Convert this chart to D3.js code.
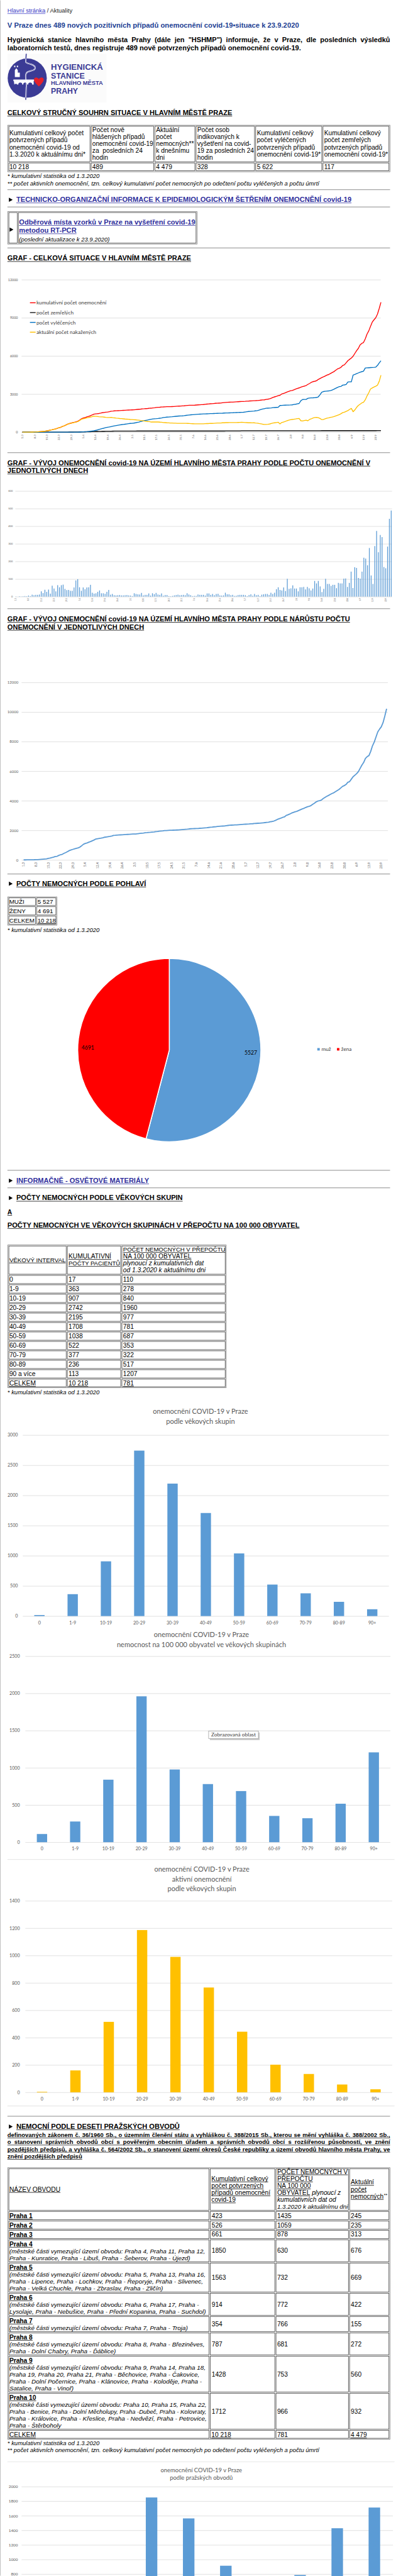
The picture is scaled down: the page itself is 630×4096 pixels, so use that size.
<!DOCTYPE html>
<html lang="cs">
<head>
<meta charset="utf-8">
<title>Covid-19 Praha</title>
<script src="https://cdn.jsdelivr.net/npm/d3@7"></script>
<style>
  html, body { margin: 0; padding: 0; background: #fff; }
  svg { display: block; }
  text { white-space: pre; }
</style>
</head>
<body>
<svg id="page" width="630" height="4096" viewBox="0 0 800 5200"></svg>
<script>
// ======================= DATA =======================
const pageTitle = "V Praze dnes 489 nových pozitivních případů onemocnění covid-19•situace k 23.9.2020";
const introLines = [
  "Hygienická stanice hlavního města Prahy (dále jen \"HSHMP\") informuje, že v Praze, dle posledních výsledků",
  "laboratorních testů, dnes registruje 489 nově potvrzených případů onemocnění covid-19."
];
const summaryHeaders = [
  ["Kumulativní celkový počet","potvrzených případů","onemocnění covid-19 od","1.3.2020 k aktuálnímu dni*"],
  ["Počet nově","hlášených případů","onemocnění covid-19","za  posledních 24","hodin"],
  ["Aktuální","počet","nemocných**","k dnešnímu","dni"],
  ["Počet osob","indikovaných k","vyšetření na covid-","19 za posledních 24","hodin"],
  ["Kumulativní celkový","počet vyléčených","potvrzených případů","onemocnění covid-19*"],
  ["Kumulativní celkový","počet zemřelých","potvrzených případů","onemocnění covid-19*"]
];
const summaryValues = ["10 218","489","4 479","328","5 622","117"];

const weekTicks = ["1.3","8.3","15.3","22.3","29.3","5.4","12.4","19.4","26.4","3.5","10.5","17.5","24.5","31.5","7.6","14.6","21.6","28.6","5.7","12.7","19.7","26.7","2.8","9.8","16.8","23.8","30.8","6.9","13.9","20.9"];

// daily new cases 1.3. - 23.9.2020
const dailyNew = [
  1,0,2,1,2,3,2,
  6,3,11,8,10,10,12,
  30,20,39,27,40,17,62,
  46,30,65,53,65,68,44,
  37,38,33,33,52,92,99,
  53,33,52,42,52,53,67,
  22,17,19,27,35,19,19,
  16,27,38,11,15,8,7,
  8,9,7,7,8,9,7,
  6,3,19,15,13,12,21,
  7,10,10,18,6,19,14,
  21,12,10,18,5,9,9,
  3,2,4,7,9,11,8,
  9,10,8,19,12,8,3,
  4,4,12,10,10,10,6,
  18,18,10,15,8,15,16,
  7,6,7,22,13,13,8,
  10,4,5,9,10,10,10,
  8,3,9,13,5,15,8,
  10,3,11,13,15,15,10,
  22,15,22,42,53,38,35,
  52,32,101,44,47,64,46,
  46,30,53,53,55,41,55,
  47,35,46,89,75,89,58,
  26,44,101,72,72,61,67,
  67,48,78,75,75,102,103,
  55,78,142,49,167,163,106,
  102,142,221,216,178,276,120,
  72,287,373,252,350,338,168,
  161,284,442,489
];
const cumulative = [
  1,1,3,4,6,9,11,
  17,20,31,39,49,59,71,
  101,121,160,187,227,244,306,
  352,382,447,500,565,633,677,
  714,752,785,818,870,962,1061,
  1114,1147,1199,1241,1293,1346,1413,
  1435,1452,1471,1498,1533,1552,1571,
  1587,1614,1652,1663,1678,1686,1693,
  1701,1710,1717,1724,1732,1741,1748,
  1754,1757,1776,1791,1804,1816,1837,
  1844,1854,1864,1882,1888,1907,1921,
  1942,1954,1964,1982,1987,1996,2005,
  2008,2010,2014,2021,2030,2041,2049,
  2058,2068,2076,2095,2107,2115,2118,
  2122,2126,2138,2148,2158,2168,2174,
  2192,2210,2220,2235,2243,2258,2274,
  2281,2287,2294,2316,2329,2342,2350,
  2360,2364,2369,2378,2388,2398,2408,
  2416,2419,2428,2441,2446,2461,2469,
  2479,2482,2493,2506,2521,2536,2546,
  2576,2596,2626,2676,2736,2781,2821,
  2873,2905,3006,3050,3097,3161,3207,
  3253,3283,3336,3389,3444,3485,3540,
  3587,3622,3668,3757,3832,3921,3979,
  4005,4049,4150,4222,4294,4355,4422,
  4489,4537,4615,4690,4765,4867,4970,
  5025,5103,5245,5294,5461,5624,5730,
  5832,5974,6195,6411,6589,6865,6985,
  7057,7344,7717,7969,8319,8657,8842,
  9003,9287,9729,10218
];
const recovered = [
  0,0,0,0,0,0,0,
  0,0,0,0,0,0,0,
  0,0,0,0,0,0,0,
  0,0,0,0,0,0,0,
  0,0,0,0,5,10,15,
  25,30,40,55,70,90,110,
  140,170,210,250,290,320,360,
  390,410,440,470,500,525,550,
  570,590,610,630,650,670,690,
  700,715,740,770,800,840,870,
  900,930,960,990,1020,1040,1055,
  1065,1080,1100,1120,1150,1170,1185,
  1195,1205,1215,1230,1245,1260,1270,
  1275,1285,1300,1320,1340,1355,1370,
  1380,1390,1400,1410,1420,1430,1435,
  1440,1445,1450,1460,1465,1470,1475,
  1480,1485,1490,1495,1505,1510,1515,
  1520,1525,1530,1540,1545,1550,1555,
  1560,1570,1590,1610,1630,1640,1650,
  1660,1680,1700,1740,1780,1820,1850,
  1880,1890,1900,1910,1930,1940,1950,
  1960,2100,2110,2120,2125,2130,2135,
  2140,2150,2180,2200,2230,2260,2480,
  2570,2575,2580,2660,2690,2700,2705,
  2715,2730,2780,2950,3150,3200,3220,
  3235,3250,3270,3320,3380,3450,3520,
  3585,3600,3700,3720,3750,3950,3960,
  3960,4495,4540,4600,4660,4720,4760,
  4800,5050,5060,5070,5080,5090,5100,
  5115,5250,5450,5622
];
const deaths = [
  0,0,0,0,0,0,0,
  0,0,0,0,0,0,0,
  0,0,0,0,0,0,0,
  0,0,0,0,1,1,2,
  3,5,8,11,14,17,20,
  24,28,32,36,40,44,48,
  52,55,58,61,64,67,70,
  72,74,76,78,80,81,82,
  83,84,85,86,86,87,87,
  88,88,88,89,89,89,89,
  90,90,90,90,90,90,90,
  90,90,91,91,91,91,91,
  91,91,91,91,91,91,91,
  91,91,91,91,92,92,92,
  92,92,92,92,92,92,92,
  92,92,92,92,92,92,92,
  92,92,92,92,92,93,93,
  93,93,93,93,93,93,93,
  112,112,112,112,112,112,112,
  112,112,112,112,112,112,112,
  112,112,112,112,112,112,112,
  112,112,112,112,112,112,112,
  112,112,113,113,113,113,113,
  113,113,113,113,113,113,113,
  113,113,113,113,114,114,114,
  114,114,114,114,114,114,114,
  114,114,114,115,115,115,115,
  115,115,115,115,115,116,116,
  116,116,116,116,116,116,116,
  116,117,117,117
];
const active = [
  1,1,3,4,6,9,11,
  17,20,31,39,49,59,71,
  101,121,160,187,227,244,306,
  352,381,446,498,562,629,672,
  706,740,770,800,845,930,1020,
  1060,1085,1125,1150,1185,1215,1260,
  1255,1240,1220,1205,1200,1185,1165,
  1150,1155,1160,1140,1125,1105,1090,
  1075,1065,1050,1035,1025,1015,1000,
  990,980,975,960,940,915,905,
  880,860,840,830,800,800,800,
  800,800,790,785,760,750,740,
  735,725,720,710,705,700,700,
  700,700,695,695,690,680,670,
  665,660,660,660,660,660,660,
  670,680,680,690,690,700,710,
  720,720,720,740,740,750,750,
  760,760,760,760,760,765,770,
  780,770,760,750,740,740,730,
  740,720,710,680,660,630,610,
  610,620,640,680,720,740,760,
  780,650,760,800,840,900,940,
  980,1000,1020,1040,1070,1080,900,
  880,920,940,900,1000,1050,1120,
  1150,1160,1140,1080,990,1000,1050,
  1100,1130,1170,1190,1230,1280,1330,
  1380,1450,1540,1570,1640,1700,1790,
  1870,1610,1750,1950,2100,2200,2300,
  2350,2550,2850,3100,3400,3480,3550,
  3610,3700,4000,4479
];
const seriesNames = ["kumulativní počet onemocnění","počet zemřelých","počet vyléčených","aktuální počet nakažených"];
const seriesColors = ["#ff0000","#1a1a1a","#0070c0","#ffc000"];

const c1YTicks = [0,3000,6000,9000,12000];
const c2YTicks = [0,100,200,300,400,500,600];
const c3YTicks = [0,2000,4000,6000,8000,10000,12000];

const sexTable = [["MUŽI","5 527"],["ŽENY","4 691"],["CELKEM","10 218"]];
const sexLabels = ["muž","žena"];
const sexValues = [5527,4691];
const sexColors = ["#5b9bd5","#ff0000"];

const ageTableLabels = ["0","1-9","10-19","20-29","30-39","40-49","50-59","60-69","70-79","80-89","90 a více"];
const ageGroups = ["0","1-9","10-19","20-29","30-39","40-49","50-59","60-69","70-79","80-89","90+"];
const ageCases = [17,363,907,2742,2195,1708,1038,522,377,236,113];
const ageRate = [110,278,840,1960,977,781,687,353,322,517,1207];
const ageActive = [4,160,515,1186,990,766,443,202,134,57,22];
const ageTotals = ["10 218","781"];
const ageAYTicks = [0,500,1000,1500,2000,2500,3000];
const ageBYTicks = [0,500,1000,1500,2000,2500];
const ageCYTicks = [0,200,400,600,800,1000,1200,1400];

const districts = ["Praha 1","Praha 2","Praha 3","Praha 4","Praha 5","Praha 6","Praha 7","Praha 8","Praha 9","Praha 10"];
const districtParts = [
  [],[],[],
  ["(městské části vymezující území obvodu: Praha 4, Praha 11, Praha 12,","Praha - Kunratice, Praha - Libuš, Praha - Šeberov, Praha - Újezd)"],
  ["(městské části vymezující území obvodu: Praha 5, Praha 13, Praha 16,","Praha - Lipence, Praha - Lochkov, Praha - Řeporyje, Praha - Slivenec,","Praha - Velká Chuchle, Praha - Zbraslav, Praha - Zličín)"],
  ["(městské části vymezující území obvodu: Praha 6, Praha 17, Praha -","Lysolaje, Praha - Nebušice, Praha - Přední Kopanina, Praha - Suchdol)"],
  ["(městské části vymezující území obvodu: Praha 7, Praha - Troja)"],
  ["(městské části vymezující území obvodu: Praha 8, Praha - Březiněves,","Praha - Dolní Chabry, Praha - Ďáblice)"],
  ["(městské části vymezující území obvodu: Praha 9, Praha 14, Praha 18,","Praha 19, Praha 20, Praha 21, Praha - Běchovice, Praha - Čakovice,","Praha - Dolní Počernice, Praha - Klánovice, Praha - Koloděje, Praha -","Satalice, Praha - Vinoř)"],
  ["(městské části vymezující území obvodu: Praha 10, Praha 15, Praha 22,","Praha - Benice, Praha - Dolní Měcholupy, Praha -Dubeč, Praha - Kolovraty,","Praha - Královice, Praha - Křeslice, Praha - Nedvězí, Praha - Petrovice,","Praha - Štěrboholy"]
];
const districtCases = [423,526,661,1850,1563,914,354,787,1428,1712];
const districtRate = [1435,1059,878,630,732,772,766,681,753,966];
const districtActive = [245,235,313,676,669,422,155,272,560,932];
const districtTotals = ["10 218","781","4 479"];
const distYTicks = [800,1000,1200,1400,1600,1800,2000];

const lawLines = [
  "definovaných zákonem č. 36/1960 Sb., o územním členění státu a vyhláškou  č. 388/2015 Sb., kterou se mění vyhláška č. 388/2002 Sb.,",
  "o stanovení správních obvodů obcí s pověřeným obecním úřadem a správních obvodů obcí s rozšířenou působností, ve znění",
  "pozdějších předpisů, a vyhláška č. 564/2002 Sb., o stanovení území okresů České republiky a území obvodů hlavního města Prahy, ve",
  "znění pozdějších předpisů"
];
const footCum = "* kumulativní statistika od 1.3.2020";
const footActive = "** počet aktivních onemocnění, tzn. celkový kumulativní počet nemocných po odečtení počtu vyléčených a počtu úmrtí";

// ======================= HELPERS =======================
const FONT = "'Liberation Sans', Arial, Helvetica, sans-serif";
const CF = "Lato, 'Open Sans', 'DejaVu Sans', sans-serif";
const LINK = "#3434c4";
const LINK2 = "#2e2e9c";
const GREY = "#595959";
const svg = d3.select("#page");

svg.append("rect").attr("width", 800).attr("height", 5200).attr("fill", "#fff");
svg.append("rect").attr("x", 0).attr("y", 0).attr("width", 1.4).attr("height", 5200).attr("fill", "#c4c4c4");

function T(g, x, cy, str, o = {}) {
  let s = o.s || 13;
  const t = g.append("text")
    .attr("x", x).attr("y", cy + s * 0.35)
    .attr("font-family", o.f || FONT).attr("font-size", s)
    .attr("fill", o.c || "#000")
    .attr("font-weight", o.b ? "bold" : null)
    .attr("font-style", o.i ? "italic" : null)
    .attr("text-anchor", o.a || null)
    .attr("xml:space", "preserve")
    .text(str);
  if (o.w) t.attr("textLength", o.w).attr("lengthAdjust", "spacingAndGlyphs");
  let w = o.w || t.node().getComputedTextLength();
  if (!o.w && o.max && w > o.max) {     // shrink the font so the text fits its cell
    s = s * o.max / w;
    t.attr("font-size", s);
    w = t.node().getComputedTextLength();
  }
  if (o.u) {
    let x0 = x;
    if (o.a === "middle") x0 = x - w / 2; else if (o.a === "end") x0 = x - w;
    g.append("rect").attr("x", x0).attr("y", cy + (o.s || 13) * 0.35 + s * 0.11)
      .attr("width", w).attr("height", Math.max(0.9, s * 0.075)).attr("fill", o.c || "#000");
  }
  return w;
}
function R(g, x, cy, parts, base = {}) {
  let cx = x;
  parts.forEach(p => { cx += T(g, cx, cy, p.t, Object.assign({}, base, p)); });
  return cx - x;
}
function J(g, x0, x1, cy, str, o = {}) {
  const s = o.s || 13;
  const words = str.split(/\s+/).filter(Boolean);
  const nodes = words.map(w => g.append("text").attr("y", cy + s * 0.35)
    .attr("font-family", o.f || FONT).attr("font-size", s).attr("fill", o.c || "#000")
    .attr("font-weight", o.b ? "bold" : null).attr("font-style", o.i ? "italic" : null).text(w));
  let ws = nodes.map(n => n.node().getComputedTextLength());
  let gap = (x1 - x0 - d3.sum(ws)) / (words.length - 1);
  if (gap < 2.5) { // too long: reduce the font a little
    const k = (x1 - x0 - 2.5 * (words.length - 1)) / d3.sum(ws);
    nodes.forEach(n => n.attr("font-size", s * k));
    ws = nodes.map(n => n.node().getComputedTextLength());
    gap = (x1 - x0 - d3.sum(ws)) / (words.length - 1);
  }
  let cx = x0;
  nodes.forEach((n, i) => { n.attr("x", cx); cx += ws[i] + gap; });
  if (o.u) g.append("rect").attr("x", x0).attr("y", cy + s * 0.35 + s * 0.11)
    .attr("width", x1 - x0).attr("height", Math.max(0.9, s * 0.075)).attr("fill", o.c || "#000");
}
function tri(g, x, cy) {
  g.append("path").attr("d", `M${x},${cy - 4.3}L${x + 7.6},${cy}L${x},${cy + 4.3}Z`).attr("fill", "#000");
}
function hr(y, col = "#a4a4a4", x1 = 788, h = 1.6) {
  svg.append("rect").attr("x", 15).attr("y", y - h / 2).attr("width", x1 - 15).attr("height", h).attr("fill", col);
}
function drawTable(g, xs, ys) {
  const X0 = xs[0], X1 = xs[xs.length - 1], Y0 = ys[0], Y1 = ys[ys.length - 1];
  g.append("rect").attr("x", X0 + 0.5).attr("y", Y0 + 0.5).attr("width", X1 - X0 - 1).attr("height", Y1 - Y0 - 1)
    .attr("fill", "none").attr("stroke", "#777").attr("stroke-width", 1);
  for (let r = 0; r < ys.length - 1; r++) for (let c = 0; c < xs.length - 1; c++) {
    const a = xs[c] + (c === 0 ? 2.5 : 1.2), b = xs[c + 1] - (c === xs.length - 2 ? 2.5 : 1.2);
    const t = ys[r] + (r === 0 ? 2.5 : 1.2), u = ys[r + 1] - (r === ys.length - 2 ? 2.5 : 1.2);
    g.append("rect").attr("x", a).attr("y", t).attr("width", b - a).attr("height", u - t)
      .attr("fill", "none").attr("stroke", "#3c3c3c").attr("stroke-width", 1);
  }
}
function styleGrid(g, size) {
  g.select(".domain").remove();
  g.selectAll(".tick line").attr("stroke", "#d9d9d9").attr("stroke-width", 1);
  g.selectAll(".tick text").attr("font-family", CF).attr("font-size", size).attr("fill", GREY);
}

// ======================= HEADER =======================
const bw = T(svg, 15, 21, "Hlavní stránka", { s: 12, c: LINK, u: true });
T(svg, 15 + bw, 21, " / Aktuality", { s: 12, c: "#222" });
T(svg, 15, 50, pageTitle, { s: 14, b: true, c: "#1d3f93", w: 589 });
J(svg, 15, 788, 80, introLines[0], { s: 14, b: true });
T(svg, 15, 96, introLines[1], { s: 14, b: true, w: 593 });

// logo
const logo = svg.append("g");
const NAVY = "#3b3b95";
logo.append("rect").attr("x", 15).attr("y", 108).attr("width", 200).attr("height", 98).attr("fill", "#fbfbfb");
logo.append("circle").attr("cx", 55).attr("cy", 157).attr("r", 39.5).attr("fill", NAVY);
logo.append("clipPath").attr("id", "logoClip").append("circle").attr("cx", 55).attr("cy", 157).attr("r", 39.5);
const river = "M53,108 L52,124 C52,129 70,127 71,136 C72,145 53,139 52,151 C51,160 55,166 53,176 L52,201";
logo.append("path").attr("d", river).attr("fill", "none").attr("stroke", NAVY).attr("stroke-width", 2);
logo.append("path").attr("d", river).attr("fill", "none").attr("stroke", "#fff").attr("stroke-width", 2.4).attr("clip-path", "url(#logoClip)");
logo.append("path").attr("d", river).attr("fill", "none").attr("stroke", NAVY).attr("stroke-width", 0.8).attr("clip-path", "url(#logoClip)");
// castle
logo.append("rect").attr("x", 28.5).attr("y", 132).attr("width", 2.5).attr("height", 3).attr("fill", "#fff");
logo.append("rect").attr("x", 34).attr("y", 132).attr("width", 2.5).attr("height", 3).attr("fill", "#fff");
logo.append("path").attr("d", "M30,155 L30,141 L33,137 L36,141 L36,146 L40,146 L40,155 Z").attr("fill", "#fff");
// bridge
logo.append("rect").attr("x", 27).attr("y", 160).attr("width", 42).attr("height", 3).attr("fill", "#fff");
logo.append("path").attr("d", "M28,163 L68,163 L68,170 L65,170 A4,4 0 0 0 57,170 L55,170 A4,4 0 0 0 47,170 L45,170 A4,4 0 0 0 37,170 L35,170 A4,4 0 0 0 29,170 Z").attr("fill", "#fff");
// heart
logo.append("path").attr("d", "M78.5,174 C70,166 67,161 69.5,157.5 C72,154.5 76.5,155.5 78.5,159 C80.5,155.5 85,154.5 87.5,157.5 C90,161 87,166 78.5,174 Z").attr("fill", "#e4202a");
T(logo, 103, 135, "HYGIENICKÁ", { s: 17, b: true, c: NAVY, w: 105 });
T(logo, 103, 152, "STANICE", { s: 17, b: true, c: NAVY, w: 68 });
T(logo, 103, 167, "HLAVNÍHO MĚSTA", { s: 11.5, b: true, c: NAVY, w: 105 });
T(logo, 103, 182.5, "PRAHY", { s: 17, b: true, c: NAVY, w: 54.5 });

// ======================= SUMMARY TABLE =======================
T(svg, 15, 227, "CELKOVÝ STRUČNÝ SOUHRN SITUACE V HLAVNÍM MĚSTĚ PRAZE", { s: 13.5, b: true, u: true, w: 454 });
const sumX = [15.4, 183, 311.8, 394.9, 515.4, 651.3, 788.2];
const sumY = [251.7, 327.2, 346.7];
const sumG = svg.append("g");
drawTable(sumG, sumX, sumY);
summaryHeaders.forEach((lines, c) => {
  const mid = (sumY[0] + sumY[1]) / 2;
  const mw = sumX[c + 1] - sumX[c] - 6;
  lines.forEach((l, k) => T(sumG, sumX[c] + 3.5, mid + (k - (lines.length - 1) / 2) * 14.1, l, { s: 13, max: mw }));
});
summaryValues.forEach((v, c) => T(sumG, sumX[c] + 3.5, 336.8, v, { s: 13 }));
T(svg, 15, 354, footCum, { s: 12, i: true, w: 186 });
T(svg, 15, 369.3, footActive, { s: 12, i: true, w: 630 });

hr(382.3);
tri(svg, 18, 402.7);
T(svg, 33, 402.7, "TECHNICKO-ORGANIZAČNÍ INFORMACE K EPIDEMIOLOGICKÝM ŠETŘENÍM ONEMOCNĚNÍ covid-19", { s: 13, b: true, u: true, c: LINK2, w: 677 });
hr(417.3);
const boxG = svg.append("g");
drawTable(boxG, [15.4, 36, 398.5], [426, 492.7]);
tri(boxG, 19.5, 463);
T(boxG, 38.5, 448.3, "Odběrová místa vzorků v Praze na vyšetření covid-19", { s: 13, b: true, u: true, c: LINK2, w: 356 });
T(boxG, 38.5, 465, "metodou RT-PCR", { s: 13, b: true, u: true, c: LINK2, w: 116 });
T(boxG, 38.5, 482.3, "(poslední aktualizace k 23.9.2020)", { s: 12, i: true, w: 183 });
hr(500);
T(svg, 15, 521, "GRAF - CELKOVÁ SITUACE V HLAVNÍM MĚSTĚ PRAZE", { s: 13, b: true, u: true, w: 371 });

function rotLabels(g, scale, yTop, size) {
  g.selectAll(null).data(weekTicks).join("text")
    .attr("transform", (d, k) => `translate(${scale(k * 7)},${yTop}) rotate(-90)`)
    .attr("text-anchor", "end").attr("dy", "0.35em")
    .attr("font-family", CF).attr("font-size", size).attr("fill", GREY).text(d => d);
}

// ======================= CHART 1: overall situation =======================
{
  const g = svg.append("g");
  const x = d3.scaleLinear().domain([0, cumulative.length - 1]).range([45.1, 769.6]);
  const y = d3.scaleLinear().domain([0, 12000]).range([872, 564]);
  g.append("g").attr("transform", "translate(43.6,0)")
    .call(d3.axisLeft(y).tickValues(c1YTicks).tickSize(-(769 - 43.6)).tickPadding(7.6).tickFormat(d3.format("d")))
    .call(a => styleGrid(a, 6.8));
  rotLabels(g, x, 877, 5.8);
  const line = d3.line().x((d, i) => x(i)).y(d => y(d));
  [cumulative, deaths, recovered, active].forEach((s, k) => {
    g.append("path").datum(s).attr("d", line).attr("fill", "none")
      .attr("stroke", seriesColors[k]).attr("stroke-width", k === 1 ? 2 : 1.7).attr("stroke-linejoin", "round");
  });
  seriesNames.forEach((n, k) => {
    const cy = 610.7 + k * 19.8;
    g.append("line").attr("x1", 60.5).attr("x2", 72).attr("y1", cy).attr("y2", cy)
      .attr("stroke", seriesColors[k]).attr("stroke-width", 1.8);
    T(g, 73.5, cy, n, { s: 10.5, f: CF, c: "#404040" });
  });
}

hr(913.3);
T(svg, 15, 934, "GRAF - VÝVOJ ONEMOCNĚNÍ covid-19 NA ÚZEMÍ HLAVNÍHO MĚSTA PRAHY PODLE POČTU ONEMOCNĚNÍ V", { s: 13, b: true, u: true, w: 733 });
T(svg, 15, 950, "JEDNOTLIVÝCH DNECH", { s: 13, b: true, u: true, w: 163 });

// ======================= CHART 2: daily new cases =======================
{
  const g = svg.append("g");
  const x = d3.scaleLinear().domain([0, dailyNew.length - 1]).range([31.8, 790.3]);
  const y = d3.scaleLinear().domain([0, 600]).range([1204, 990.7]);
  g.append("g").attr("transform", "translate(31,0)")
    .call(d3.axisLeft(y).tickValues(c2YTicks).tickSize(-(792 - 31)).tickPadding(5.4))
    .call(a => styleGrid(a, 5));
  g.selectAll("rect.d").data(dailyNew).join("rect").attr("class", "d")
    .attr("x", (d, i) => x(i) - 0.8).attr("width", 1.6)
    .attr("y", d => y(d)).attr("height", d => y(0) - y(d)).attr("fill", "#5b9bd5");
  rotLabels(g, x, 1207, 3.8);
}

hr(1228.3);
T(svg, 15, 1249.5, "GRAF - VÝVOJ ONEMOCNĚNÍ covid-19 NA ÚZEMÍ HLAVNÍHO MĚSTA PRAHY PODLE NÁRŮSTU POČTU", { s: 13, b: true, u: true, w: 692 });
T(svg, 15, 1265.4, "ONEMOCNĚNÍ V JEDNOTLIVÝCH DNECH", { s: 13, b: true, u: true, w: 276 });

// ======================= CHART 3: cumulative growth =======================
{
  const g = svg.append("g");
  const x = d3.scaleLinear().domain([0, cumulative.length - 1]).range([47.7, 781]);
  const y = d3.scaleLinear().domain([0, 12000]).range([1735.6, 1377.3]);
  g.append("g").attr("transform", "translate(43.6,0)")
    .call(d3.axisLeft(y).tickValues(c3YTicks).tickSize(-(783.6 - 43.6)).tickPadding(6.6).tickFormat(d3.format("d")))
    .call(a => styleGrid(a, 7.6));
  rotLabels(g, x, 1740.5, 6.5);
  g.append("path").datum(cumulative)
    .attr("d", d3.line().x((d, i) => x(i)).y(d => y(d)))
    .attr("fill", "none").attr("stroke", "#5b9bd5").attr("stroke-width", 2.3).attr("stroke-linejoin", "round");
}

hr(1764);
// ======================= SEX =======================
tri(svg, 18, 1783.7);
T(svg, 33, 1783.7, "POČTY NEMOCNÝCH PODLE POHLAVÍ", { s: 13, b: true, u: true, w: 262 });
{
  const g = svg.append("g");
  const xs = [15.4, 72.8, 115.4], ys = [1809.8, 1828.9, 1848, 1867.9];
  drawTable(g, xs, ys);
  sexTable.forEach((row, r) => {
    const cy = (ys[r] + ys[r + 1]) / 2;
    T(g, xs[0] + 3.2, cy, row[0], { s: 12.5, max: xs[1] - xs[0] - 5 });
    T(g, xs[1] + 3.2, cy, row[1], { s: 12.5, u: r === 2, max: xs[2] - xs[1] - 6 });
  });
  T(svg, 15, 1877.2, footCum, { s: 12, i: true, w: 186 });

  const pg = svg.append("g").attr("transform", "translate(342,2119.7)");
  const arcs = d3.pie().sort(null).value(d => d)(sexValues);
  const arc = d3.arc().innerRadius(0).outerRadius(185);
  pg.selectAll("path").data(arcs).join("path").attr("d", arc)
    .attr("fill", (d, i) => sexColors[i]).attr("stroke", "#fff").attr("stroke-width", 2);
  const lab = d3.arc().innerRadius(166).outerRadius(166);
  pg.selectAll("text").data(arcs).join("text")
    .attr("x", d => lab.centroid(d)[0]).attr("y", d => lab.centroid(d)[1] * 0.25)
    .attr("dy", "0.35em").attr("text-anchor", "middle")
    .attr("font-family", CF).attr("font-size", 11).attr("fill", "#000").text(d => d.data);
  // legend
  const lg = svg.append("g");
  let lx = 641;
  sexLabels.forEach((n, k) => {
    lg.append("rect").attr("x", lx).attr("y", 2115.5).attr("width", 5).attr("height", 5).attr("fill", sexColors[k]);
    const w = T(lg, lx + 8.5, 2118.2, n, { s: 10.5, f: CF, c: "#404040" });
    lx += 8.5 + w + 12;
  });
}

hr(2362.3);
tri(svg, 18, 2383.3);
T(svg, 33, 2383.3, "INFORMAČNĚ - OSVĚTOVÉ MATERIÁLY", { s: 13, b: true, u: true, c: LINK2, w: 268 });
hr(2397.7);
tri(svg, 18, 2418.3);
T(svg, 33, 2418.3, "POČTY NEMOCNÝCH PODLE VĚKOVÝCH SKUPIN", { s: 13, b: true, u: true, w: 336 });
T(svg, 15, 2446.7, "A", { s: 13, b: true, u: true });
T(svg, 15, 2473.3, "POČTY NEMOCNÝCH VE VĚKOVÝCH SKUPINÁCH V PŘEPOČTU NA 100 000 OBYVATEL", { s: 13, b: true, u: true, w: 590 });

// ======================= AGE TABLE =======================
{
  const g = svg.append("g");
  const xs = [15.4, 134.9, 245.1, 457.4];
  const ys = [2512.7, 2573.3];
  for (let k = 1; k <= ageTableLabels.length + 1; k++) ys.push(2573.3 + k * 19.05);
  drawTable(g, xs, ys);
  const mid = (ys[0] + ys[1]) / 2;
  const mw = c => xs[c + 1] - xs[c] - 6;
  T(g, xs[0] + 3.5, mid, "VĚKOVÝ INTERVAL", { s: 13, u: true, max: mw(0) });
  T(g, xs[1] + 3.5, mid - 7, "KUMULATIVNÍ", { s: 13, u: true, max: mw(1) });
  T(g, xs[1] + 3.5, mid + 7, "POČTY PACIENTŮ", { s: 13, u: true, max: mw(1) });
  T(g, xs[2] + 3.5, mid - 21, "POČET NEMOCNÝCH V PŘEPOČTU", { s: 13, u: true, max: mw(2) });
  T(g, xs[2] + 3.5, mid - 7, "NA 100 000 OBYVATEL", { s: 13, u: true, max: mw(2) });
  T(g, xs[2] + 3.5, mid + 7, "plynoucí z kumulativních dat", { s: 13, i: true, max: mw(2) });
  T(g, xs[2] + 3.5, mid + 21, "od 1.3.2020 k aktuálnímu dni", { s: 13, i: true, max: mw(2) });
  ageTableLabels.forEach((lbl, r) => {
    const cy = (ys[r + 1] + ys[r + 2]) / 2;
    T(g, xs[0] + 3.5, cy, lbl, { s: 13 });
    T(g, xs[1] + 3.5, cy, String(ageCases[r]), { s: 13 });
    T(g, xs[2] + 3.5, cy, String(ageRate[r]), { s: 13 });
  });
  const cyT = (ys[ys.length - 2] + ys[ys.length - 1]) / 2;
  T(g, xs[0] + 3.5, cyT, "CELKEM", { s: 13, u: true });
  T(g, xs[1] + 3.5, cyT, ageTotals[0], { s: 13, u: true });
  T(g, xs[2] + 3.5, cyT, ageTotals[1], { s: 13, u: true });
  T(svg, 15, 2810.7, footCum, { s: 12, i: true, w: 186 });
}

// ======================= BAR CHARTS =======================
function barChart(o) {
  const g = svg.append("g");
  const x = d3.scaleBand().domain(o.cats).range([o.x0, o.x1]).paddingInner(o.pad).paddingOuter(o.pad / 2);
  const y = d3.scaleLinear().domain([0, o.max]).range([o.y0, o.yTop]);
  g.append("g").attr("transform", `translate(${o.x0},0)`)
    .call(d3.axisLeft(y).tickValues(o.ticks).tickSize(-(o.x1 - o.x0)).tickPadding(o.lp).tickFormat(d3.format("d")))
    .call(a => styleGrid(a, o.ls));
  g.selectAll("rect.b").data(o.values).join("rect").attr("class", "b")
    .attr("x", (d, i) => x(o.cats[i])).attr("width", x.bandwidth())
    .attr("y", d => y(d)).attr("height", d => y(0) - y(d)).attr("fill", o.color);
  if (o.xl) g.selectAll("text.xl").data(o.cats).join("text").attr("class", "xl")
    .attr("x", d => x(d) + x.bandwidth() / 2).attr("y", o.xl + o.ls * 0.35)
    .attr("text-anchor", "middle").attr("font-family", CF).attr("font-size", o.ls).attr("fill", GREY).text(d => d);
  o.title.forEach((t, k) => T(g, o.tx, o.ty[k], t, { s: o.ts, f: CF, c: GREY, a: "middle" }));
  return g;
}
barChart({ cats: ageGroups, values: ageCases, x0: 46, x1: 785.6, y0: 3262.4, yTop: 2896.9, max: 3000,
  ticks: ageAYTicks, lp: 10, ls: 9, pad: 0.69, xl: 3275.6, color: "#5b9bd5",
  title: ["onemocnění COVID-19 v Praze", "podle věkových skupin"], tx: 405, ty: [2848.6, 2868.9], ts: 14 });
const chB = barChart({ cats: ageGroups, values: ageRate, x0: 51.3, x1: 788.7, y0: 3719, yTop: 3343.3, max: 2500,
  ticks: ageBYTicks, lp: 11.3, ls: 9, pad: 0.69, xl: 3732.3, color: "#5b9bd5",
  title: ["onemocnění COVID-19 v Praze", "nemocnost na 100 000 obyvatel ve věkových skupinách"], tx: 407, ty: [3300, 3320], ts: 14 });
chB.append("rect").attr("x", 424).attr("y", 3497.5).attr("width", 100.5).attr("height", 15.3).attr("fill", "#c8c8c8");
chB.append("rect").attr("x", 421.5).attr("y", 3494.7).attr("width", 100.5).attr("height", 15.3).attr("fill", "#fff").attr("stroke", "#8a8a8a").attr("stroke-width", 0.8);
T(chB, 426.7, 3502.3, "Zobrazovaná oblast", { s: 9.5, f: CF, c: "#404040", w: 90 });
hr(3754, "#dcdcdc", 797, 1);
barChart({ cats: ageGroups, values: ageActive, x0: 51.3, x1: 792.3, y0: 4224, yTop: 3837.3, max: 1400,
  ticks: ageCYTicks, lp: 11.3, ls: 9, pad: 0.69, xl: 4237.3, color: "#ffc000",
  title: ["onemocnění COVID-19 v Praze", "aktivní onemocnění", "podle věkových skupin"], tx: 407.7, ty: [3773.3, 3793.3, 3813.3], ts: 14 });
hr(4251.7, "#dcdcdc", 797, 1);
hr(4272.3);

// ======================= DISTRICTS =======================
tri(svg, 18, 4293.2);
T(svg, 33, 4293.2, "NEMOCNÍ PODLE DESETI PRAŽSKÝCH OBVODŮ", { s: 13, b: true, u: true, w: 330 });
[4310.4, 4324.6, 4338.9].forEach((cy, k) => J(svg, 15, 788, cy, lawLines[k], { s: 12, b: true, u: true }));
T(svg, 15, 4353.2, lawLines[3], { s: 12, b: true, u: true, w: 151 });
{
  const g = svg.append("g");
  const xs = [15.4, 423.6, 556.4, 705.1, 788.2];
  const ys = [4375.7, 4463.5];
  districts.forEach((d, r) => ys.push(ys[ys.length - 1] + 5 + 14.0 * (1 + districtParts[r].length)));
  ys.push(ys[ys.length - 1] + 19.6);
  drawTable(g, xs, ys);
  const mid = (ys[0] + ys[1]) / 2;
  const LH = 14.2;
  const mw = c => xs[c + 1] - xs[c] - 6;
  T(g, xs[0] + 3.5, mid, "NÁZEV OBVODU", { s: 13, u: true });
  ["Kumulativní celkový", "počet potvrzených", "případů onemocnění", "covid-19"].forEach((l, k) =>
    T(g, xs[1] + 3.5, mid + (k - 1.5) * LH, l, { s: 13, u: true, max: mw(1) }));
  const c3 = [
    [{ t: "POČET NEMOCNÝCH V", u: true }], [{ t: "PŘEPOČTU", u: true }], [{ t: "NA 100 000", u: true }],
    [{ t: "OBYVATEL", u: true }, { t: " plynoucí z", i: true }], [{ t: "kumulativních dat od", i: true }],
    [{ t: "1.3.2020 k aktuálnímu dni", i: true }]
  ];
  c3.forEach((parts, k) => R(g, xs[2] + 3.5, mid + (k - 2.5) * LH, parts, { s: 13, max: mw(2) }));
  T(g, xs[3] + 3.5, mid - LH, "Aktuální", { s: 13, u: true });
  T(g, xs[3] + 3.5, mid, "počet", { s: 13, u: true });
  const nw = T(g, xs[3] + 3.5, mid + LH, "nemocných", { s: 13, u: true });
  T(g, xs[3] + 4 + nw, mid + LH - 2, "**", { s: 9 });
  districts.forEach((d, r) => {
    const top = ys[r + 1], bot = ys[r + 2];
    T(g, xs[0] + 3.5, top + 9.8, d, { s: 13, b: true, u: true });
    districtParts[r].forEach((l, k) => T(g, xs[0] + 3.5, top + 9.8 + (k + 1) * 14.0, l, { s: 12.6, i: true, max: mw(0) - 4 }));
    const cy = (top + bot) / 2;
    T(g, xs[1] + 4, cy, String(districtCases[r]), { s: 13 });
    T(g, xs[2] + 3.5, cy, String(districtRate[r]), { s: 13 });
    T(g, xs[3] + 3.5, cy, String(districtActive[r]), { s: 13 });
  });
  const ct = ys[ys.length - 2], cb = ys[ys.length - 1];
  const cy = (ct + cb) / 2;
  T(g, xs[0] + 3.5, cy, "CELKEM", { s: 13, u: true });
  T(g, xs[1] + 3.5, cy, districtTotals[0], { s: 13, u: true });
  T(g, xs[2] + 3.5, cy, districtTotals[1], { s: 13 });
  T(g, xs[3] + 3.5, cy, districtTotals[2], { s: 13, u: true });
  const fy = cb + 7.5;
  T(svg, 15, fy, footCum, { s: 12, i: true, w: 186 });
  T(svg, 15, fy + 14, footActive, { s: 12, i: true, w: 630 });
}
hr(4970, "#e2e2e2", 797, 1);
barChart({ cats: districts, values: districtCases, x0: 43.6, x1: 793.8, y0: 5314.5, yTop: 5020, max: 2000,
  ticks: distYTicks, lp: 7.6, ls: 8, pad: 0.69, xl: null, color: "#5b9bd5",
  title: ["onemocnění COVID-19 v Praze", "podle pražských obvodů"], tx: 406.7, ty: [4986.7, 5002.7], ts: 12 });
</script>
</body>
</html>
